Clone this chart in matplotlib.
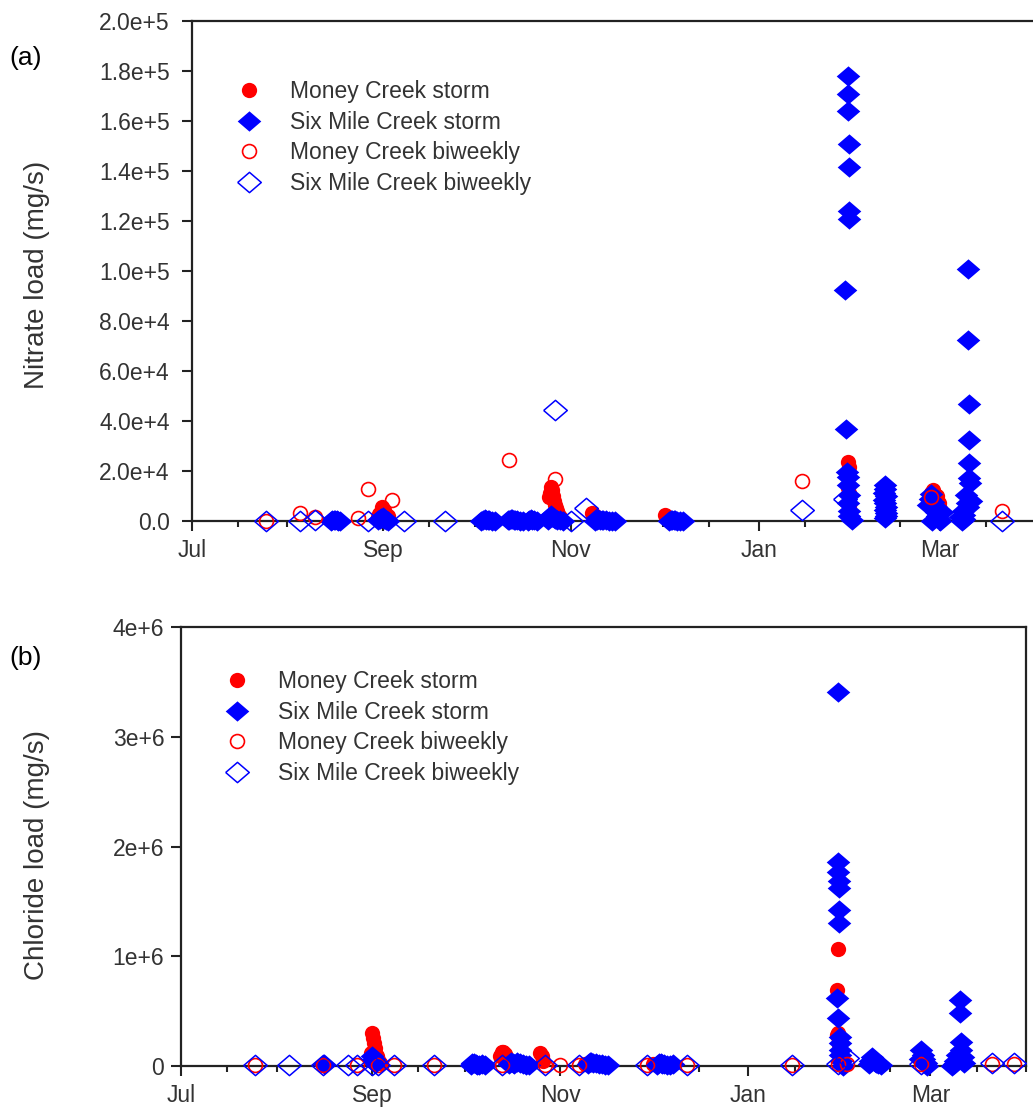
import matplotlib
matplotlib.use("Agg")
import matplotlib.pyplot as plt
import matplotlib.dates as mdates
import pandas as pd

plt.rcParams['font.family'] = ['Liberation Sans', 'DejaVu Sans']

# ---------------- nitrate load (mg/s) ----------------
no3_mc_storm_t = ['2009-08-30 06:00', '2009-08-30 18:00', '2009-08-31 06:00', '2009-08-31 18:00',
                  '2009-09-01 06:00', '2009-09-01 18:00', '2009-09-02 12:00', '2009-10-03 12:00',
                  '2009-10-13 00:00', '2009-10-25 00:00', '2009-10-25 08:00', '2009-10-25 16:00',
                  '2009-10-26 00:00', '2009-10-26 08:00', '2009-10-26 16:00', '2009-10-27 00:00',
                  '2009-10-27 08:00', '2009-10-27 16:00', '2009-10-28 00:00', '2009-10-28 12:00',
                  '2009-11-08 00:00', '2009-11-08 12:00', '2009-11-09 00:00', '2009-11-10 00:00',
                  '2009-12-01 12:00', '2009-12-02 06:00', '2010-01-30 04:00', '2010-01-30 08:00',
                  '2010-01-30 04:00', '2010-01-30 08:00', '2010-01-30 12:00', '2010-02-26 00:00',
                  '2010-02-26 12:00', '2010-02-27 00:00', '2010-02-27 12:00', '2010-02-28 00:00',
                  '2010-02-28 12:00', '2010-03-01 00:00']
no3_mc_storm = [1600, 2800, 3600, 5600, 4400, 3000, 2000, 400,
                800, 9600, 11200, 13600, 12400, 10000, 8000, 6400,
                5200, 4000, 2800, 1600, 3200, 2400, 1600, 800,
                2400, 1600, 23600, 21600, 13200, 11200, 6000, 11200,
                12400, 9600, 8000, 10000, 7200, 4800]

no3_sm_storm_t = ['2009-08-15 00:00', '2009-08-15 12:00', '2009-08-16 00:00', '2009-08-16 12:00',
                  '2009-08-17 00:00', '2009-08-17 12:00', '2009-08-18 00:00',
                  '2009-08-30 12:00', '2009-08-31 00:00', '2009-08-31 12:00', '2009-09-01 00:00',
                  '2009-09-01 12:00', '2009-09-02 00:00', '2009-09-02 12:00',
                  '2009-10-03 00:00', '2009-10-03 12:00', '2009-10-04 00:00', '2009-10-04 12:00',
                  '2009-10-05 00:00', '2009-10-05 12:00', '2009-10-06 12:00', '2009-10-07 12:00',
                  '2009-10-11 12:00', '2009-10-12 00:00', '2009-10-12 12:00', '2009-10-13 00:00',
                  '2009-10-13 12:00', '2009-10-14 00:00', '2009-10-14 12:00', '2009-10-15 12:00',
                  '2009-10-16 12:00', '2009-10-18 00:00', '2009-10-18 12:00', '2009-10-19 00:00',
                  '2009-10-19 12:00', '2009-10-20 00:00', '2009-10-21 00:00',
                  '2009-10-24 12:00', '2009-10-25 00:00', '2009-10-25 12:00', '2009-10-26 00:00',
                  '2009-10-26 12:00', '2009-10-27 00:00', '2009-10-27 12:00', '2009-10-28 12:00',
                  '2009-10-29 12:00',
                  '2009-11-09 00:00', '2009-11-09 12:00', '2009-11-10 00:00', '2009-11-10 12:00',
                  '2009-11-11 00:00', '2009-11-11 12:00', '2009-11-12 12:00', '2009-11-13 12:00',
                  '2009-11-14 12:00', '2009-11-15 12:00',
                  '2009-12-03 00:00', '2009-12-03 12:00', '2009-12-04 00:00', '2009-12-04 12:00',
                  '2009-12-05 00:00', '2009-12-05 12:00', '2009-12-06 12:00', '2009-12-07 12:00',
                  '2010-01-29 05:00', '2010-01-29 08:00',
                  '2010-01-30 02:00', '2010-01-30 03:00', '2010-01-30 04:00', '2010-01-30 05:00',
                  '2010-01-30 06:00', '2010-01-30 07:00', '2010-01-30 08:00',
                  '2010-01-29 20:00', '2010-01-30 00:00', '2010-01-30 04:00', '2010-01-30 10:00',
                  '2010-01-29 22:00', '2010-01-30 12:00', '2010-01-30 06:00', '2010-01-31 10:00',
                  '2010-02-11 00:00', '2010-02-11 04:00', '2010-02-10 20:00', '2010-02-11 08:00',
                  '2010-02-10 16:00', '2010-02-11 02:00', '2010-02-11 12:00', '2010-02-10 22:00',
                  '2010-02-11 06:00', '2010-02-11 10:00', '2010-02-11 00:00',
                  '2010-02-25 00:00', '2010-02-25 12:00', '2010-02-26 00:00', '2010-02-26 06:00',
                  '2010-02-26 12:00', '2010-02-27 00:00', '2010-02-27 12:00', '2010-02-28 00:00',
                  '2010-02-28 12:00', '2010-03-01 00:00', '2010-03-01 12:00',
                  '2010-03-10 00:00', '2010-03-10 02:00', '2010-03-10 04:00', '2010-03-10 06:00',
                  '2010-03-10 08:00', '2010-03-10 10:00', '2010-03-10 12:00',
                  '2010-03-09 12:00', '2010-03-09 16:00', '2010-03-09 20:00',
                  '2010-03-08 12:00', '2010-03-08 16:00', '2010-03-08 20:00', '2010-03-08 00:00',
                  '2010-03-07 12:00', '2010-03-11 00:00']
no3_sm_storm = [200, 400, 600, 400, 300, 200, 100,
                300, 700, 1200, 1600, 900, 500, 200,
                200, 500, 800, 600, 400, 300, 200, 100,
                300, 600, 900, 700, 500, 400, 300, 200,
                100, 200, 500, 800, 600, 400, 200,
                600, 1600, 2400, 1800, 1200, 800, 500, 300,
                100,
                200, 500, 800, 600, 400, 300, 400, 200,
                100, 50,
                200, 400, 600, 500, 300, 200, 150, 100,
                92400, 36800,
                178000, 171000, 164000, 150700, 141500, 124000, 120700,
                19600, 17600, 14400, 10400, 7200, 4000, 2000, 600,
                14400, 12800, 11200, 10000, 8400, 7200, 5600, 4400,
                3200, 2000, 1200,
                6400, 8800, 10800, 0, 7600, 5200, 3600, 2000,
                800, 200, 3600,
                100700, 72400, 46800, 32400, 23200, 17200, 15200,
                10400, 7200, 5600,
                4000, 2400, 800, 0,
                1600, 8000]

no3_mc_bw_t = ['2009-07-25', '2009-08-05', '2009-08-10', '2009-08-24', '2009-08-27', '2009-09-04',
               '2009-10-12', '2009-10-27', '2010-01-15', '2010-02-26', '2010-03-21']
no3_mc_bw = [200, 3200, 1800, 1200, 12800, 8400, 24400, 16800, 16000, 9600, 4000]

no3_sm_bw_t = ['2009-07-25', '2009-08-05', '2009-08-10', '2009-08-27', '2009-09-08', '2009-09-21',
               '2009-10-27', '2009-11-01', '2009-11-06', '2010-01-15', '2010-01-29', '2010-03-21']
no3_sm_bw = [0, 0, 300, 0, 0, 0, 44400, 0, 5200, 4400, 8800, 0]

no3_yticks = [0, 20000, 40000, 60000, 80000, 100000, 120000, 140000, 160000, 180000, 200000]
no3_yticklabels = ['0.0', '2.0e+4', '4.0e+4', '6.0e+4', '8.0e+4', '1.0e+5',
                   '1.2e+5', '1.4e+5', '1.6e+5', '1.8e+5', '2.0e+5']

# ---------------- chloride load (mg/s) ----------------
cl_mc_storm_t = ['2009-08-31 12:00', '2009-08-31 18:00', '2009-09-01 00:00', '2009-09-01 06:00',
                 '2009-09-01 12:00', '2009-09-01 18:00', '2009-09-02 00:00', '2009-09-02 12:00',
                 '2009-09-03 00:00', '2009-09-03 12:00',
                 '2009-10-12 12:00', '2009-10-13 00:00', '2009-10-13 12:00', '2009-10-14 00:00',
                 '2009-10-14 12:00', '2009-10-15 00:00',
                 '2009-10-25 12:00', '2009-10-26 00:00', '2009-10-26 12:00',
                 '2009-11-09 00:00', '2009-12-01 05:00',
                 '2010-01-29 17:00', '2010-01-30 00:00', '2010-01-29 20:00', '2010-01-30 04:00',
                 '2010-01-30 06:00', '2010-01-30 08:00', '2010-01-30 10:00', '2010-01-30 12:00']
cl_mc_storm = [120000, 70000, 300000, 255000,
               210000, 165000, 125000, 90000,
               55000, 30000,
               90000, 130000, 125000, 110000,
               80000, 45000,
               120000, 90000, 50000,
               20000, 20000,
               692000, 1066000, 280000, 300000,
               250000, 200000, 150000, 120000]

cl_sm_storm_t = ['2009-08-16 12:00',
                 '2009-09-01 00:00', '2009-09-01 12:00', '2009-09-02 00:00',
                 '2009-10-03 00:00', '2009-10-03 12:00', '2009-10-04 00:00', '2009-10-04 12:00',
                 '2009-10-05 00:00', '2009-10-05 12:00', '2009-10-06 12:00', '2009-10-07 12:00',
                 '2009-10-15 12:00', '2009-10-16 00:00', '2009-10-16 12:00', '2009-10-17 00:00',
                 '2009-10-18 00:00', '2009-10-19 00:00', '2009-10-20 00:00', '2009-10-21 00:00',
                 '2009-10-22 00:00',
                 '2009-11-10 00:00', '2009-11-10 12:00', '2009-11-11 00:00', '2009-11-11 12:00',
                 '2009-11-12 12:00', '2009-11-13 12:00', '2009-11-14 12:00', '2009-11-15 12:00',
                 '2009-11-16 12:00',
                 '2009-12-02 12:00', '2009-12-03 00:00', '2009-12-03 12:00', '2009-12-04 00:00',
                 '2009-12-04 12:00', '2009-12-05 12:00', '2009-12-06 12:00', '2009-12-07 12:00',
                 '2010-01-30 00:00', '2010-01-30 02:00', '2010-01-30 04:00', '2010-01-30 06:00',
                 '2010-01-30 08:00', '2010-01-30 10:00', '2010-01-30 12:00',
                 '2010-01-29 20:00', '2010-01-29 22:00',
                 '2010-01-30 14:00', '2010-01-30 16:00', '2010-01-30 18:00', '2010-01-30 20:00',
                 '2010-01-30 22:00', '2010-01-31 12:00',
                 '2010-02-09 00:00', '2010-02-09 12:00', '2010-02-10 00:00', '2010-02-10 12:00',
                 '2010-02-11 00:00', '2010-02-11 12:00', '2010-02-12 00:00', '2010-02-13 00:00',
                 '2010-02-25 12:00', '2010-02-26 00:00', '2010-02-26 12:00', '2010-02-27 00:00',
                 '2010-02-27 12:00', '2010-02-28 00:00',
                 '2010-03-10 12:00', '2010-03-10 16:00', '2010-03-10 20:00', '2010-03-11 00:00',
                 '2010-03-09 12:00', '2010-03-09 00:00', '2010-03-08 12:00', '2010-03-08 00:00',
                 '2010-03-11 12:00', '2010-03-12 00:00']
cl_sm_storm = [15000,
               90000, 60000, 30000,
               10000, 25000, 30000, 20000,
               10000, 5000, 15000, 8000,
               20000, 40000, 30000, 20000,
               35000, 25000, 15000, 10000,
               5000,
               20000, 40000, 35000, 25000,
               30000, 20000, 15000, 10000,
               5000,
               10000, 25000, 30000, 20000,
               15000, 10000, 5000, 15000,
               3410000, 1860000, 1770000, 1690000,
               1620000, 1420000, 1300000,
               620000, 437000,
               264000, 210000, 146000, 100000,
               50000, 0,
               20000, 50000, 80000, 60000,
               40000, 30000, 20000, 10000,
               60000, 150000, 100000, 60000,
               30000, 0,
               600000, 480000, 220000, 150000,
               100000, 50000, 20000, 0,
               80000, 30000]

cl_mc_bw_t = ['2009-07-25', '2009-08-16', '2009-08-27', '2009-09-03', '2009-09-08', '2009-09-21',
              '2009-10-13', '2009-10-27', '2009-11-01', '2009-11-07', '2009-11-29', '2009-12-12',
              '2010-01-15', '2010-01-30', '2010-02-02', '2010-02-26', '2010-03-21', '2010-03-28']
cl_mc_bw = [10000, 10000, 10000, 10000, 10000, 10000,
            10000, 10000, 10000, 10000, 10000, 10000,
            10000, 15000, 15000, 15000, 20000, 20000]

cl_sm_bw_t = ['2009-07-25', '2009-08-05', '2009-08-16', '2009-08-24', '2009-08-27', '2009-09-01',
              '2009-09-03', '2009-09-08', '2009-09-21', '2009-10-13', '2009-10-27', '2009-11-07',
              '2009-11-29', '2009-12-12', '2010-01-15', '2010-01-30', '2010-02-02', '2010-02-26',
              '2010-03-21', '2010-03-28']
cl_sm_bw = [10000, 10000, 10000, 10000, 10000, 10000,
            10000, 10000, 10000, 10000, 10000, 10000,
            10000, 10000, 10000, 15000, 70000, 20000,
            25000, 25000]

cl_yticks = [0, 1000000, 2000000, 3000000, 4000000]
cl_yticklabels = ['0', '1e+6', '2e+6', '3e+6', '4e+6']

series_labels = ['Money Creek storm', 'Six Mile Creek storm',
                 'Money Creek biweekly', 'Six Mile Creek biweekly']

RED = '#ff0000'
BLUE = '#0000ff'
TXT = '#333333'
# slightly flattened diamond
DIAMOND = [(-1, 0), (0, 0.86), (1, 0), (0, -0.86), (-1, 0)]

W, H = 1033, 1116
fig = plt.figure(figsize=(W / 100, H / 100), dpi=100)


def px_axes(left, top, right, bottom):
    return fig.add_axes([left / W, 1 - bottom / H, (right - left) / W, (bottom - top) / H])


def draw_panel(ax, mc_st_t, mc_st, sm_st_t, sm_st, mc_bw_t, mc_bw, sm_bw_t, sm_bw):
    ax.plot(pd.to_datetime(mc_st_t), mc_st, ls='none', marker='o', ms=11,
            mfc=RED, mec=RED, mew=0, clip_on=False, zorder=3, label=series_labels[0])
    ax.plot(pd.to_datetime(sm_st_t), sm_st, ls='none', marker=DIAMOND, ms=17,
            mfc=BLUE, mec=BLUE, mew=0, clip_on=False, zorder=4, label=series_labels[1])
    ax.plot(pd.to_datetime(mc_bw_t), mc_bw, ls='none', marker='o', ms=10,
            mfc='none', mec=RED, mew=1.2, clip_on=False, zorder=5, label=series_labels[2])
    ax.plot(pd.to_datetime(sm_bw_t), sm_bw, ls='none', marker=DIAMOND, ms=17,
            mfc='none', mec=BLUE, mew=1.1, clip_on=False, zorder=6, label=series_labels[3])


def style_axes(ax, xlim, yticks, yticklabels, ylim, ypad):
    ax.set_xlim(pd.Timestamp(xlim[0]), pd.Timestamp(xlim[1]))
    ax.set_ylim(*ylim)
    ax.xaxis.set_major_locator(mdates.MonthLocator(bymonth=[1, 3, 5, 7, 9, 11]))
    ax.xaxis.set_major_formatter(mdates.DateFormatter('%b'))
    ax.xaxis.set_minor_locator(mdates.MonthLocator(bymonthday=[1, 16]))
    ax.set_yticks(yticks)
    ax.set_yticklabels(yticklabels)
    for s in ax.spines.values():
        s.set_linewidth(1.6)
        s.set_color('#222222')
    ax.tick_params(axis='both', which='major', direction='out', length=7, width=1.5,
                   colors='#222222', labelcolor=TXT, labelsize=16.5)
    ax.tick_params(axis='x', which='minor', direction='out', length=4.5, width=1.5,
                   colors='#222222')
    ax.tick_params(axis='y', which='major', pad=ypad)
    ax.tick_params(axis='x', which='major', pad=6)


legend_kw = dict(loc='upper left', bbox_transform=fig.transFigure, frameon=False,
                 fontsize=16.5, borderpad=0, borderaxespad=0, handlelength=1.0,
                 handletextpad=1.25, labelspacing=0.33, labelcolor=TXT, numpoints=1)

# (a) nitrate
ax1 = px_axes(192, 21, 1045, 521)
draw_panel(ax1, no3_mc_storm_t, no3_mc_storm, no3_sm_storm_t, no3_sm_storm,
           no3_mc_bw_t, no3_mc_bw, no3_sm_bw_t, no3_sm_bw)
style_axes(ax1, ('2009-07-01', '2010-04-04'), no3_yticks, no3_yticklabels, (0, 200000), 9)
ax1.legend(bbox_to_anchor=(238 / W, 1 - 80 / H), **legend_kw)

# (b) chloride
ax2 = px_axes(181, 627, 1026, 1066)
draw_panel(ax2, cl_mc_storm_t, cl_mc_storm, cl_sm_storm_t, cl_sm_storm,
           cl_mc_bw_t, cl_mc_bw, cl_sm_bw_t, cl_sm_bw)
style_axes(ax2, ('2009-07-01', '2010-04-01'), cl_yticks, cl_yticklabels, (0, 4000000), 5)
ax2.legend(bbox_to_anchor=(226 / W, 1 - 670 / H), **legend_kw)

fig.text(37 / W, 1 - 275 / H, 'Nitrate load (mg/s)', rotation=90, ha='center', va='center',
         fontsize=20, color=TXT)
fig.text(37 / W, 1 - 855 / H, 'Chloride load (mg/s)', rotation=90, ha='center', va='center',
         fontsize=20, color=TXT)
fig.text(9 / W, 1 - 58 / H, '(a)', ha='left', va='center', fontsize=19, color='black')
fig.text(9 / W, 1 - 658 / H, '(b)', ha='left', va='center', fontsize=19, color='black')

fig.savefig('out.png', dpi=100)
